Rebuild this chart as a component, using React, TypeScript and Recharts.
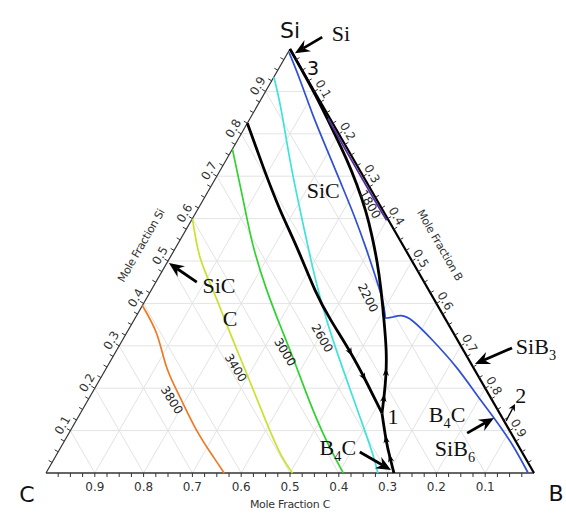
import { ComposedChart, Line, Scatter, XAxis, YAxis } from 'recharts';

type Pt = [number, number];

// Zusammensetzungen als [xB, xC], xSi = 1 - xB - xC
const ISO_3800: Pt[] = [[0, 0.605], [0.063, 0.609], [0.122, 0.628], [0.185, 0.636], [0.259, 0.641], [0.324, 0.638], [0.365, 0.635]];
const ISO_3400: Pt[] = [[0, 0.4], [0.061, 0.43], [0.126, 0.442], [0.192, 0.454], [0.261, 0.466], [0.331, 0.478], [0.395, 0.489], [0.459, 0.497], [0.505, 0.495]];
const ISO_3000: Pt[] = [[0, 0.236], [0.082, 0.274], [0.155, 0.307], [0.233, 0.331], [0.305, 0.346], [0.375, 0.359], [0.453, 0.375], [0.535, 0.387], [0.609, 0.391]];
const ISO_2600: Pt[] = [[0, 0.066], [0.054, 0.09], [0.131, 0.131], [0.21, 0.169], [0.292, 0.206], [0.36, 0.233], [0.431, 0.255], [0.507, 0.274], [0.583, 0.292], [0.643, 0.307], [0.68, 0.32]];
const ISO_2200_SIC: Pt[] = [[0.002, 0.006], [0.057, 0.016], [0.125, 0.031], [0.195, 0.043], [0.263, 0.054], [0.327, 0.065], [0.39, 0.079], [0.446, 0.094], [0.487, 0.107], [0.513, 0.122]];
const ISO_2200_B4C: Pt[] = [[0.513, 0.122], [0.527, 0.105], [0.542, 0.087], [0.573, 0.069], [0.637, 0.051], [0.718, 0.034], [0.791, 0.025], [0.853, 0.017], [0.924, 0.011], [0.988, 0.012]];
const ISO_1800: Pt[] = [[0.16, 0.004], [0.22, 0.005], [0.28, 0.005], [0.34, 0.005], [0.4, 0.004]];

// Phasengrenzen (schwarz)
const BOUNDARY_A: Pt[] = [[0, 0.175], [0.084, 0.194], [0.169, 0.21], [0.249, 0.22], [0.335, 0.233], [0.404, 0.236], [0.48, 0.234], [0.547, 0.236], [0.618, 0.241]];
const BOUNDARY_B: Pt[] = [[0, 0], [0.098, 0.002], [0.185, 0.008], [0.244, 0.014], [0.297, 0.023], [0.346, 0.036], [0.387, 0.052], [0.43, 0.073], [0.471, 0.098], [0.512, 0.127], [0.552, 0.158], [0.581, 0.188], [0.601, 0.215], [0.618, 0.241]];
const BOUNDARY_C: Pt[] = [[0.618, 0.241], [0.658, 0.264], [0.687, 0.277], [0.713, 0.287]];

// Pfeile auf den Grenzlinien: Si-Anteil, Richtung entlang der Punktfolge
const FLOW_MARKS = [
  { line: 'A', si: 0.285, dir: 1 }, { line: 'A', si: 0.226, dir: 1 },
  { line: 'B', si: 0.238, dir: -1 }, { line: 'B', si: 0.177, dir: -1 },
  { line: 'C', si: 0.08, dir: -1 }, { line: 'C', si: 0.035, dir: -1 },
];

const GRID_STEPS = [0.1, 0.2, 0.3, 0.4, 0.5, 0.6, 0.7, 0.8, 0.9];
const TICK_LABELS = ['0.1', '0.2', '0.3', '0.4', '0.5', '0.6', '0.7', '0.8', '0.9'];
const MINOR_TICKS = 40; // Teilstriche alle 0.025

// Beschriftungen in Diagrammkoordinaten (x, y = xSi)
const ISO_LABELS = [
  { text: '3800', x: 0.258, y: 0.172, rot: 58 },
  { text: '3400', x: 0.389, y: 0.248, rot: 58 },
  { text: '3000', x: 0.49, y: 0.285, rot: 59 },
  { text: '2600', x: 0.566, y: 0.318, rot: 60 },
  { text: '2200', x: 0.66, y: 0.413, rot: 63 },
  { text: '1800', x: 0.664, y: 0.634, rot: 60 },
];
const CORNER_LABELS = [
  { text: 'Si', x: 0.5, y: 1.045 },
  { text: 'C', x: -0.039, y: -0.05 },
  { text: 'B', x: 1.045, y: -0.047 },
];
const PHASE_LABELS = [
  { text: 'Si', x: 0.6045, y: 1.038 },
  { text: 'SiC', x: 0.568, y: 0.667 },
  { text: 'SiC', x: 0.3545, y: 0.443 },
  { text: 'C', x: 0.377, y: 0.366 },
  { text: '1', x: 0.711, y: 0.134 },
  { text: 'B_4C', x: 0.822, y: 0.139 },
  { text: 'SiB_6', x: 0.838, y: 0.059 },
  { text: 'SiB_3', x: 1.004, y: 0.2995 },
  { text: '2', x: 0.973, y: 0.184 },
  { text: 'B_4C', x: 0.598, y: 0.061 },
];
const POINT_3 = { text: '3', x: 0.547, y: 0.955 };
const ARROWS = [
  { tip: [0.51, 0.99], tail: [0.566, 1.028], thin: false },
  { tip: [0.252, 0.495], tail: [0.309, 0.45], thin: false },
  { tip: [0.707, 0.007], tail: [0.643, 0.0495], thin: false },
  { tip: [0.879, 0.257], tail: [0.955, 0.295], thin: false },
  { tip: [0.918, 0.13], tail: [0.863, 0.094], thin: false },
  { tip: [0.961, 0.163], tail: [0.943, 0.123], thin: true },
];

// Layout: Dreieck im Bild
const W = 566, H = 514;
const LEFT = 46, BASE = 473, SIDE = 488, TALL = 424;
const SANS = '"DejaVu Sans", Verdana, sans-serif';
const SERIF = '"Liberation Serif", "Times New Roman", serif';

const tern = ([b, c]: Pt) => { const s = 1 - b - c; return { x: b + s / 2, y: s }; };
const seg = (a: Pt, b: Pt) => [tern(a), tern(b)];

const curves = [
  { key: 'i3800', pts: ISO_3800, color: '#f07a24', w: 1.7 },
  { key: 'i3400', pts: ISO_3400, color: '#c9e22c', w: 1.7 },
  { key: 'i3000', pts: ISO_3000, color: '#2fd22f', w: 1.7 },
  { key: 'i2600', pts: ISO_2600, color: '#3fe2dc', w: 1.7 },
  { key: 'i2200a', pts: ISO_2200_SIC, color: '#2f4fd6', w: 1.7 },
  { key: 'i2200b', pts: ISO_2200_B4C, color: '#2f4fd6', w: 1.7 },
  { key: 'bA', pts: BOUNDARY_A, color: '#000', w: 2.8 },
  { key: 'bB', pts: BOUNDARY_B, color: '#000', w: 2.8 },
  { key: 'bC', pts: BOUNDARY_C, color: '#000', w: 2.8 },
  { key: 'i1800', pts: ISO_1800, color: '#5a2a9c', w: 1.8 },
];
const boundaries: Record<string, Pt[]> = { A: BOUNDARY_A, B: BOUNDARY_B, C: BOUNDARY_C };

const grid = GRID_STEPS.flatMap((k) => [
  seg([0, 1 - k], [1 - k, 0]),
  seg([k, 1 - k], [k, 0]),
  seg([1 - k, k], [0, k]),
]);

const edges = [
  { key: 'eb', pts: seg([0, 1], [1, 0]), color: '#333', w: 1.3 },
  { key: 'el', pts: seg([0, 1], [0, 0]), color: '#333', w: 1.2 },
  { key: 'er', pts: seg([0, 0], [1, 0]), color: '#000', w: 2.2 },
];

const ticks = Array.from({ length: MINOR_TICKS - 1 }, (_, i) => (i + 1) / MINOR_TICKS).flatMap((v) => [
  { ...tern([1 - v, v]), side: 'b' },
  { ...tern([0, 1 - v]), side: 'l' },
  { ...tern([v, 0]), side: 'r' },
]);

const TICK_DIR: Record<string, [number, number]> = { b: [0, 1], l: [-0.866, -0.5], r: [0.866, -0.5] };

const texts = [
  ...TICK_LABELS.map((t, i) => ({ ...tern([1 - GRID_STEPS[i], GRID_STEPS[i]]), text: t, dx: 0, dy: 14, rot: 0, size: 12, font: SANS, fill: '#333' })),
  ...TICK_LABELS.map((t, i) => ({ ...tern([0, 1 - GRID_STEPS[i]]), text: t, dx: -8, dy: -5.5, rot: -60, size: 12, font: SANS, fill: '#333' })),
  ...TICK_LABELS.map((t, i) => ({ ...tern([GRID_STEPS[i], 0]), text: t, dx: 9, dy: -2.5, rot: 60, size: 12, font: SANS, fill: '#333' })),
  { ...tern([0.5, 0.5]), text: 'Mole Fraction C', dx: 0, dy: 31, rot: 0, size: 11, font: SANS, fill: '#333', ls: -0.3 },
  { ...tern([0, 0.5]), text: 'Mole Fraction Si', dx: -27, dy: -15.5, rot: -60, size: 11, font: SANS, fill: '#333', ls: -0.3 },
  { ...tern([0.5, 0]), text: 'Mole Fraction B', dx: 28, dy: -16, rot: 60, size: 11, font: SANS, fill: '#333', ls: -0.3 },
  ...ISO_LABELS.map((l) => ({ ...l, dx: 0, dy: 0, size: 12, font: SANS, fill: '#222' })),
  ...CORNER_LABELS.map((l) => ({ ...l, dx: 0, dy: 0, rot: 0, size: 22, font: SANS, fill: '#111' })),
  { ...POINT_3, dx: 0, dy: 0, rot: 0, size: 19, font: SANS, fill: '#111' },
  ...PHASE_LABELS.map((l) => ({ ...l, dx: 0, dy: 0, rot: 0, size: 22, font: SERIF, fill: '#111' })),
];

const arrows = ARROWS.map((a) => ({ x: a.tip[0], y: a.tip[1], tx: a.tail[0], ty: a.tail[1], thin: a.thin }));

const flows = FLOW_MARKS.map((m) => {
  const q = boundaries[m.line].map(tern);
  for (let i = 0; i < q.length - 1; i++) {
    const a = q[i], b = q[i + 1];
    if (a.y !== b.y && (m.si - a.y) * (m.si - b.y) <= 0) {
      const t = (m.si - a.y) / (b.y - a.y);
      const ang = Math.atan2(-(b.y - a.y) * TALL * m.dir, (b.x - a.x) * SIDE * m.dir);
      return { x: a.x + t * (b.x - a.x), y: m.si, ang };
    }
  }
  return { x: 0, y: 0, ang: 0 };
});

function TickMark(p: any) {
  const [ux, uy] = TICK_DIR[p.payload.side];
  return <line x1={p.cx} y1={p.cy} x2={p.cx + ux * 4} y2={p.cy + uy * 4} stroke="#333" strokeWidth={1} />;
}

function Label(p: any) {
  const d = p.payload;
  const x = p.cx + d.dx, y = p.cy + d.dy;
  const parts: string[] = d.text.split(/_(\d)/);
  const sub = d.size * 0.3;
  return (
    <text x={x} y={y + d.size * 0.35} textAnchor="middle" fontFamily={d.font} fontSize={d.size} fill={d.fill}
      letterSpacing={d.ls} transform={d.rot ? `rotate(${d.rot} ${x} ${y})` : undefined}>
      {parts.map((t, i) => i % 2
        ? <tspan key={i} dy={sub} fontSize={d.size * 0.65}>{t}</tspan>
        : <tspan key={i} dy={i ? -sub : 0}>{t}</tspan>)}
    </text>
  );
}

function Pointer(p: any) {
  const d = p.payload;
  const x2 = p.cx, y2 = p.cy;
  const x1 = x2 + (d.tx - d.x) * SIDE, y1 = y2 - (d.ty - d.y) * TALL;
  const a = Math.atan2(y2 - y1, x2 - x1);
  const ux = Math.cos(a), uy = Math.sin(a);
  const L = d.thin ? 7 : 15, hw = d.thin ? 3.5 : 6.5, notch = d.thin ? 5 : 10;
  const bx = x2 - ux * L, by = y2 - uy * L;
  const pts = [[x2, y2], [bx - uy * hw, by + ux * hw], [x2 - ux * notch, y2 - uy * notch], [bx + uy * hw, by - ux * hw]];
  return (
    <g>
      <line x1={x1} y1={y1} x2={x2 - ux * notch} y2={y2 - uy * notch} stroke="#000" strokeWidth={d.thin ? 1.3 : 2.8} />
      <polygon points={pts.map((q) => q.join(',')).join(' ')} fill="#000" />
    </g>
  );
}

function FlowHead(p: any) {
  const a = p.payload.ang;
  const ux = Math.cos(a), uy = Math.sin(a);
  const x = p.cx, y = p.cy;
  const tip = [x + ux * 4, y + uy * 4];
  const bx = x - ux * 4, by = y - uy * 4;
  const pts = [tip, [bx - uy * 3.2, by + ux * 3.2], [x - ux * 1.5, y - uy * 1.5], [bx + uy * 3.2, by - ux * 3.2]];
  return <polygon points={pts.map((q) => q.join(',')).join(' ')} fill="#000" />;
}

export default function App() {
  return (
    <div style={{ position: 'absolute', left: 0, top: 0, width: W, height: H, background: '#fff' }}>
      <ComposedChart width={W} height={H} margin={{ top: 0, right: 0, bottom: 0, left: 0 }}>
        <XAxis type="number" dataKey="x" domain={[-LEFT / SIDE, (W - LEFT) / SIDE]} allowDataOverflow hide />
        <YAxis type="number" dataKey="y" domain={[-(H - BASE) / TALL, BASE / TALL]} allowDataOverflow hide />
        {grid.map((g, i) => (
          <Line key={`g${i}`} data={g} dataKey="y" type="linear" stroke="#e3e3e3" strokeWidth={1} dot={false} isAnimationActive={false} />
        ))}
        {edges.map((e) => (
          <Line key={e.key} data={e.pts} dataKey="y" type="linear" stroke={e.color} strokeWidth={e.w} dot={false} isAnimationActive={false} />
        ))}
        {curves.map((c) => (
          <Line key={c.key} data={c.pts.map(tern)} dataKey="y" type="natural" stroke={c.color} strokeWidth={c.w} dot={false} isAnimationActive={false} />
        ))}
        <Scatter data={ticks} shape={TickMark} isAnimationActive={false} />
        <Scatter data={texts} shape={Label} isAnimationActive={false} />
        <Scatter data={arrows} shape={Pointer} isAnimationActive={false} />
        <Scatter data={flows} shape={FlowHead} isAnimationActive={false} />
      </ComposedChart>
    </div>
  );
}
